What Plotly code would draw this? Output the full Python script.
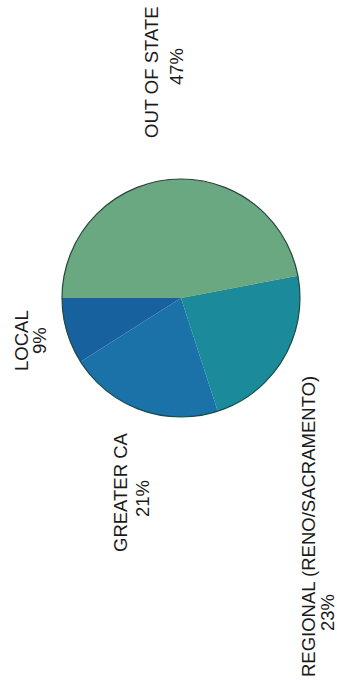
import plotly.graph_objects as go

W, H = 337, 682

# Data
labels = ["OUT OF STATE", "REGIONAL (RENO/SACRAMENTO)", "GREATER CA", "LOCAL"]
values = [47, 23, 21, 9]
pct_text = ["47%", "23%", "21%", "9%"]

# Styles
colors = ["#6aa882", "#1b8b9b", "#1a72a8", "#17619e"]
# label positions in pixels: (name_x, name_y, pct_x, pct_y)
label_pos = [
    (151, 72, 176, 67),
    (308, 527, 327, 613),
    (120, 492, 142, 499),
    (21, 341, 39, 341),
]

px = lambda x: x / W
py = lambda y: 1 - y / H

cx0, cx1, cy0, cy1 = 62, 300, 179, 417

fig = go.Figure(go.Pie(
    labels=labels, values=values, sort=False, direction="clockwise",
    rotation=-90, textinfo="none", hoverinfo="label+percent",
    marker=dict(colors=colors, line=dict(width=0)),
    domain=dict(x=[px(cx0), px(cx1)], y=[py(cy1), py(cy0)]),
    showlegend=False,
))

font = dict(family="Liberation Sans, Arial, sans-serif", size=18.5, color="#1a1a1a")
ann = []
for lab, pct, (nx, ny, qx, qy) in zip(labels, pct_text, label_pos):
    ann.append(dict(text=lab, x=px(nx), y=py(ny), xref="paper", yref="paper",
                    textangle=-90, showarrow=False, font=font,
                    xanchor="center", yanchor="middle"))
    ann.append(dict(text=pct, x=px(qx), y=py(qy), xref="paper", yref="paper",
                    textangle=-90, showarrow=False, font=font,
                    xanchor="center", yanchor="middle"))

fig.update_layout(
    width=W, height=H, margin=dict(l=0, r=0, t=0, b=0),
    paper_bgcolor="white", plot_bgcolor="white",
    annotations=ann,
    shapes=[dict(type="circle", xref="paper", yref="paper",
                 x0=px(cx0), x1=px(cx1), y0=py(cy1), y1=py(cy0),
                 line=dict(color="#234a3c", width=1.2))],
)

fig.write_html("out.html")
